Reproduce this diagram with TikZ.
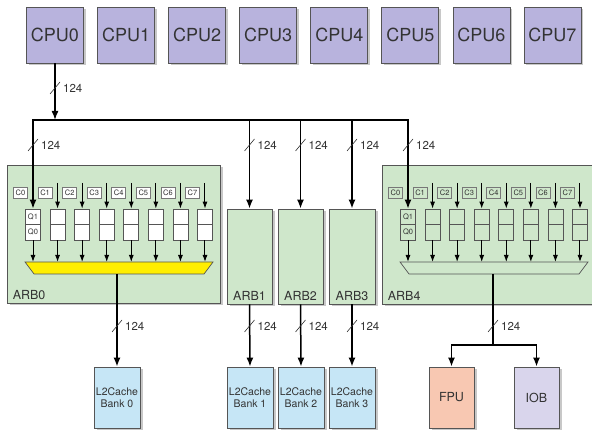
\documentclass[tikz,border=0pt]{standalone}
\usepackage{fontspec}
\setmainfont{TeX Gyre Heros}
\usetikzlibrary{arrows.meta,shadows,calc}
\definecolor{cpufill}{HTML}{B8B3DD}
\definecolor{arbfill}{HTML}{CFE7CB}
\definecolor{bankfill}{HTML}{C6E6F6}
\definecolor{fpufill}{HTML}{F8C8B2}
\definecolor{iobfill}{HTML}{D9D5EC}
\definecolor{muxfill}{HTML}{FFEE00}
\definecolor{txt}{HTML}{333333}
\definecolor{edge}{HTML}{555555}
\begin{document}
\begin{tikzpicture}[x=1pt,y=-1pt,
  shad/.style={drop shadow={shadow xshift=2.5pt,shadow yshift=-2.5pt,fill=black!30,opacity=0.7}},
  cpubox/.style={draw=edge,line width=0.8pt,fill=cpufill,minimum width=57pt,minimum height=56pt,inner sep=0pt,font=\fontsize{18}{18}\selectfont,text=txt,shad},
  arbbox/.style={draw=edge,line width=0.8pt,fill=arbfill,inner sep=0pt,shad},
  arblbl/.style={font=\fontsize{12.5}{12.5}\selectfont,text=txt,inner sep=0pt},
  bankbox/.style={draw=edge,line width=0.8pt,fill=bankfill,minimum width=46pt,minimum height=61pt,inner sep=0pt,align=center,font=\fontsize{10.5}{12.5}\selectfont,text=txt,shad},
  unitbox/.style={draw=edge,line width=0.8pt,minimum width=45pt,minimum height=61pt,inner sep=0pt,font=\fontsize{12.5}{12.5}\selectfont,text=txt,shad},
  qbox/.style={draw=edge,line width=0.7pt,minimum width=15pt,minimum height=15.5pt,inner sep=0pt,font=\fontsize{7.5}{7.5}\selectfont,text=txt},
  cbox/.style={draw=edge!80,line width=0.6pt,minimum width=14pt,minimum height=11pt,inner sep=0pt,font=\fontsize{7.5}{7.5}\selectfont,text=txt},
  busline/.style={line width=1.5pt,line cap=rect},
  bus/.style={line width=1.5pt,-{Latex[length=9pt,width=7pt]}},
  inarr/.style={line width=1pt,-{Latex[length=7pt,width=5pt]}},
  wlbl/.style={font=\fontsize{11.5}{11.5}\selectfont,text=txt,inner sep=0pt,anchor=west},
  slashline/.style={line width=0.6pt,draw=txt}
  ]
\useasboundingbox (0,0) rectangle (592,430);
\fill[white] (0,0) rectangle (592,430);

% CPUs
\foreach \i in {0,...,7}{
  \node[cpubox] (cpu\i) at ({55+71.07*\i},35) {CPU\i};
}

% arbiters
\node[arbbox,minimum width=213pt,minimum height=138pt] (arb0) at (113.5,234) {};
\node[arbbox,minimum width=218pt,minimum height=139pt] (arb4) at (491,234.5) {};
\node[arbbox,minimum width=45pt,minimum height=95pt] (arb1) at (249.5,256.5) {};
\node[arbbox,minimum width=45pt,minimum height=95pt] (arb2) at (300.5,256.5) {};
\node[arbbox,minimum width=46pt,minimum height=95pt] (arb3) at (352,256.5) {};
\node[arblbl,anchor=south west] (arb0l) at ($(arb0.south west)+(6,-4)$) {ARB0};
\node[arblbl,anchor=south west] (arb4l) at ($(arb4.south west)+(6,-4)$) {ARB4};
\foreach \a in {1,2,3}{
  \node[arblbl,anchor=south] (arb\a l) at ($(arb\a.south)+(0,-4)$) {ARB\a};
}

% queues and muxes
\foreach \a/\ox/\qf/\cf/\mf in {0/0/white/white/muxfill,4/375/arbfill/arbfill/arbfill}{
  \foreach \k in {0,...,7}{
    \pgfmathsetmacro{\cx}{33+24.57*\k+\ox}
    \node[qbox,fill=\qf] (q\a\k t) at (\cx,216.75) {};
    \node[qbox,fill=\qf] (q\a\k b) at (\cx,232.25) {};
    \node[cbox,fill=\cf] (c\a\k) at (\cx-12.5,192.5) {C\k};
    \draw[inarr] (q\a\k b.south) -- (\cx,262);
  }
  \foreach \k in {1,...,7}{
    \pgfmathsetmacro{\cx}{33+24.57*\k+\ox}
    \coordinate (s\a\k) at (\cx,183);
    \draw[inarr] (s\a\k) -- (q\a\k t.north);
  }
  \node[font=\fontsize{7.5}{7.5}\selectfont,text=txt,inner sep=0pt] (q1l\a) at (q\a0t) {Q1};
  \node[font=\fontsize{7.5}{7.5}\selectfont,text=txt,inner sep=0pt] (q0l\a) at (q\a0b) {Q0};
  \coordinate (m\a tl) at (25+\ox,262);
  \coordinate (m\a tr) at (213+\ox,262);
  \coordinate (m\a br) at (204+\ox,274);
  \coordinate (m\a bl) at (34+\ox,274);
  \filldraw[fill=\mf,draw=edge,line width=0.7pt] (m\a tl) -- (m\a tr) -- (m\a br) -- (m\a bl) -- cycle;
}
\coordinate (mux0out) at (117,274);
\coordinate (mux4out) at (493,274);

% CPU bus
\coordinate (busL) at (33,120);
\coordinate (busR) at (408,120);
\coordinate (j0) at (55,120);
\draw[bus] (cpu0.south) -- (j0);
\draw[busline] (busL) -- (busR);
\draw[bus] (busL) -- (q00t.north);
\draw[bus] (busR) -- (q40t.north);
\foreach \a in {1,2,3}{
  \draw[bus] (arb\a.north |- busL) -- (arb\a.north);
}

% L2 banks and units
\node[bankbox] (bank0) at (117,397.5) {L2Cache\\Bank 0};
\node[bankbox] (bank1) at (250,397.5) {L2Cache\\Bank 1};
\node[bankbox] (bank2) at (301,397.5) {L2Cache\\Bank 2};
\node[bankbox] (bank3) at (352,397.5) {L2Cache\\Bank 3};
\node[unitbox,fill=fpufill] (fpu) at (451.5,397.5) {FPU};
\node[unitbox,fill=iobfill] (iob) at (536.5,397.5) {IOB};

\draw[bus] (mux0out) -- (bank0.north);
\draw[bus] (arb1.south) -- (bank1.north);
\draw[bus] (arb2.south) -- (bank2.north);
\draw[bus] (arb3.south) -- (bank3.north);
\coordinate (split) at (493,345);
\draw[busline,line cap=butt] (mux4out) -- (split);
\draw[bus] (split) -| (fpu.north);
\draw[bus] (split) -| (iob.north);

% width labels
\foreach \n/\x/\y in {w0/55/88,w1/33/145,w2/249.5/145,w3/300.5/145,w4/352/145,w5/408/145,w6/117/326,w7/249.5/326,w8/300.5/326,w9/352/326,w10/493/326}{
  \draw[slashline] (\x-5,\y+6) -- (\x+5,\y-6);
  \node[wlbl] (\n) at (\x+8,\y) {124};
}
\end{tikzpicture}
\end{document}
